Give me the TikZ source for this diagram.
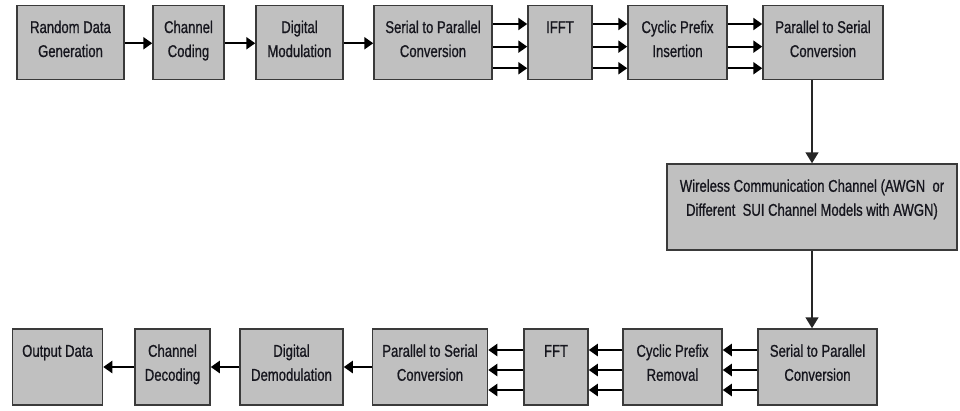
\documentclass[tikz,border=0pt]{standalone}
\usepackage{fontspec}
\newfontfamily\blkfont[FakeStretch=0.77,FakeBold=0.9]{Liberation Sans}
\usetikzlibrary{arrows.meta}
\definecolor{boxfill}{RGB}{192,192,192}
\definecolor{boxline}{RGB}{58,58,58}
\definecolor{inktext}{RGB}{22,22,30}
\begin{document}
\begin{tikzpicture}[x=1pt,y=-1pt,
  blk/.style={draw=boxline, fill=boxfill, line width=1.5pt, inner sep=0pt},
  blktext/.style={font=\blkfont\fontsize{17}{24}\selectfont, text=inktext,
              align=center, inner sep=0pt, anchor=north, yshift=-11.5pt},
  arr/.style={draw=black, line width=2.2pt,
              -{Triangle[length=9pt,width=12pt]}},
  varr/.style={draw=black!85, line width=1.6pt,
              -{Triangle[length=11pt,width=13pt]}}]
\useasboundingbox (0,0) rectangle (960,410);

% transmitter chain
\node[blk, minimum width=107, minimum height=74] (rdg) at (70.5,42.25) {};
\node[blk, minimum width=71,  minimum height=74] (cc)  at (188.5,42.25) {};
\node[blk, minimum width=87,  minimum height=74] (dm)  at (299.5,42.25) {};
\node[blk, minimum width=118, minimum height=74] (sp1) at (433,42.25) {};
\node[blk, minimum width=64,  minimum height=74] (ifft) at (560,42.25) {};
\node[blk, minimum width=99,  minimum height=74] (cpi) at (677.5,42.25) {};
\node[blk, minimum width=120, minimum height=74] (ps1) at (823,42.25) {};

\node[blktext] (rdgT) at (rdg.north) {\strut Random Data\\Generation};
\node[blktext] (ccT)  at (cc.north)  {\strut Channel\\Coding};
\node[blktext] (dmT)  at (dm.north)  {\strut Digital\\Modulation};
\node[blktext] (sp1T) at (sp1.north) {\strut Serial to Parallel\\Conversion};
\node[blktext] (ifftT) at (ifft.north) {\strut IFFT};
\node[blktext] (cpiT) at (cpi.north) {\strut Cyclic Prefix\\Insertion};
\node[blktext] (ps1T) at (ps1.north) {\strut Parallel to Serial\\Conversion};

% channel
\node[blk, minimum width=290, minimum height=86] (wl) at (812,207) {};
\node[blktext] (wlT) at (wl.north) {\strut Wireless Communication Channel (AWGN\ \ or\\Different\ \ SUI Channel Models with AWGN)};

% receiver chain
\node[blk, minimum width=90,  minimum height=76] (od)  at (57.5,367) {};
\node[blk, minimum width=75,  minimum height=76] (cd)  at (172.5,367) {};
\node[blk, minimum width=103, minimum height=76] (ddm) at (291.5,367) {};
\node[blk, minimum width=115, minimum height=76] (ps2) at (430,367) {};
\node[blk, minimum width=64,  minimum height=76] (fft) at (556,367) {};
\node[blk, minimum width=99,  minimum height=76] (cpr) at (672.5,367) {};
\node[blk, minimum width=119, minimum height=76] (sp2) at (817.5,367) {};

\node[blktext] (odT)  at (od.north)  {\strut Output Data};
\node[blktext] (cdT)  at (cd.north)  {\strut Channel\\Decoding};
\node[blktext] (ddmT) at (ddm.north) {\strut Digital\\Demodulation};
\node[blktext] (ps2T) at (ps2.north) {\strut Parallel to Serial\\Conversion};
\node[blktext] (fftT) at (fft.north) {\strut FFT};
\node[blktext] (cprT) at (cpr.north) {\strut Cyclic Prefix\\Removal};
\node[blktext] (sp2T) at (sp2.north) {\strut Serial to Parallel\\Conversion};

% single-line links, transmitter
\draw[arr] ([yshift=-1]rdg.east) -- ([yshift=-1]cc.west);
\draw[arr] ([yshift=-1]cc.east)  -- ([yshift=-1]dm.west);
\draw[arr] ([yshift=-1]dm.east)  -- ([yshift=-1]sp1.west);

% parallel links, transmitter
\foreach \dy in {18.25,-4.4,-26} {
  \draw[arr] ([yshift=\dy]sp1.east) -- ([yshift=\dy]ifft.west);
  \draw[arr] ([yshift=\dy]ifft.east) -- ([yshift=\dy]cpi.west);
  \draw[arr] ([yshift=\dy]cpi.east) -- ([yshift=\dy]ps1.west);
}

% through the channel
\draw[varr] ([xshift=-11]ps1.south) -- (wl.north);
\draw[varr] (wl.south) -- ([xshift=-5.5]sp2.north);

% parallel links, receiver
\foreach \dy in {17,-3,-23} {
  \draw[arr] ([yshift=\dy]sp2.west) -- ([yshift=\dy]cpr.east);
  \draw[arr] ([yshift=\dy]cpr.west) -- ([yshift=\dy]fft.east);
  \draw[arr] ([yshift=\dy]fft.west) -- ([yshift=\dy]ps2.east);
}

% single-line links, receiver
\draw[arr] (ps2.west) -- (ddm.east);
\draw[arr] (ddm.west) -- (cd.east);
\draw[arr] (cd.west)  -- (od.east);
\end{tikzpicture}
\end{document}
